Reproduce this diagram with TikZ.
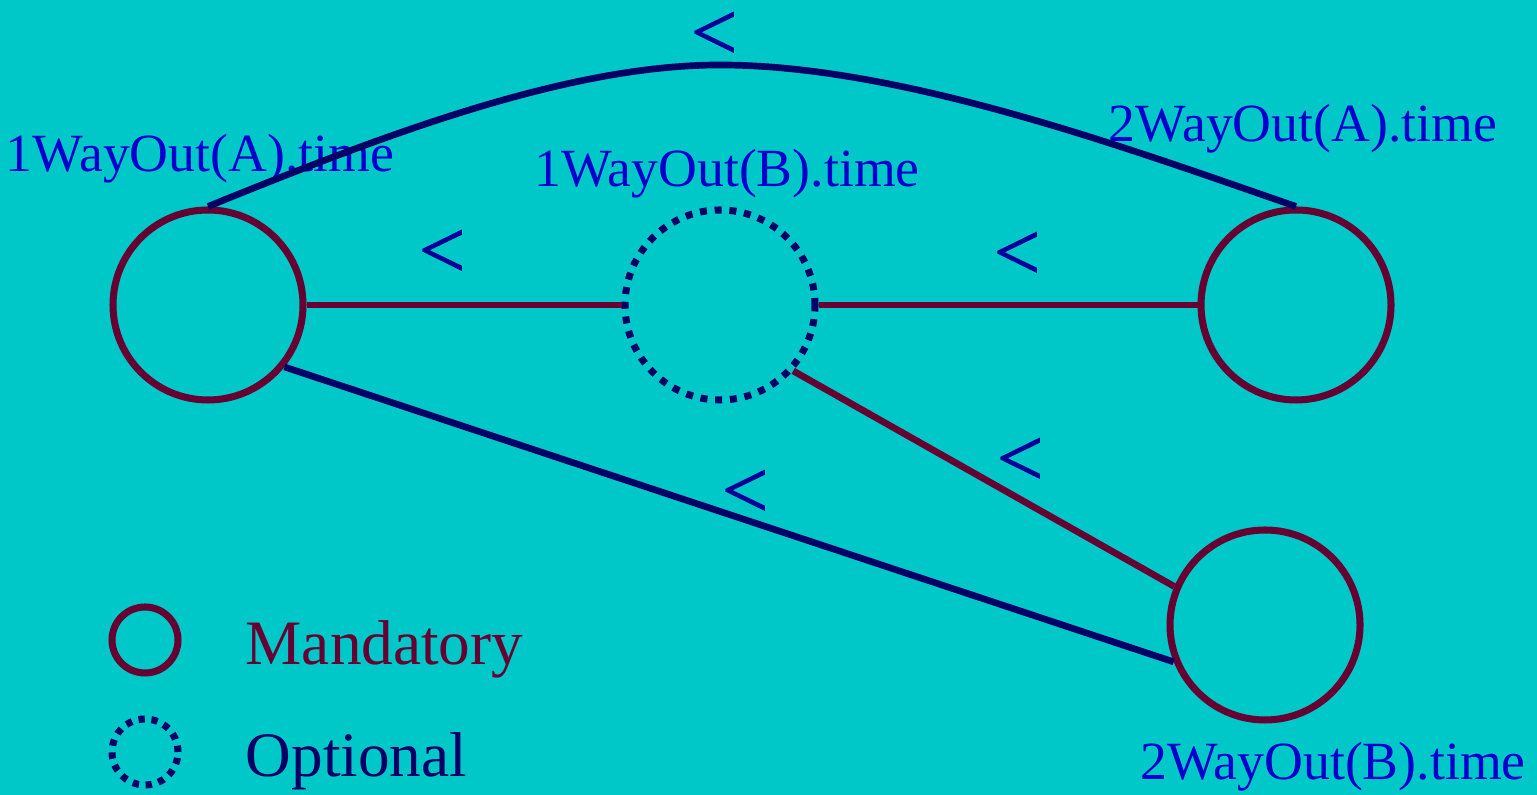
\documentclass[tikz,border=0pt]{standalone}
\usepackage{fontspec}
\setmainfont{Liberation Serif}
\newfontface\ltfont{Liberation Serif}[FakeBold=1.2]
\usepackage{xcolor}
\usepackage{tikz}
\usetikzlibrary{positioning, backgrounds}

\definecolor{bgcyan}{RGB}{0,200,200}
\definecolor{mandcol}{RGB}{102,0,51}
\definecolor{optcol}{RGB}{0,0,102}
\definecolor{labcol}{RGB}{0,0,204}
\definecolor{ltcol}{RGB}{0,0,153}

\begin{document}
\begin{tikzpicture}[
  mand/.style={circle, draw=mandcol, line width=2pt, minimum size=1.9cm, inner sep=0pt},
  opt/.style={circle, draw=optcol, line width=2pt, dash pattern=on 2pt off 2.2pt, minimum size=1.9cm, inner sep=0pt},
  smand/.style={mand, minimum size=0.66cm},
  sopt/.style={opt, minimum size=0.66cm, dash pattern=on 1.8pt off 1.9pt},
  lab/.style={text=labcol, font=\fontsize{15.3}{18}\selectfont, anchor=base, inner sep=0pt},
  lt/.style={text=ltcol, font=\ltfont\fontsize{23.5}{28}\selectfont, inner sep=0pt},
  mline/.style={draw=mandcol, line width=1.9pt},
  oline/.style={draw=optcol, line width=1.9pt}
]

% canvas
\fill[bgcyan] (0,0) rectangle (15.37,7.95);
\useasboundingbox (0,0) rectangle (15.37,7.95);

% Time points
\node[mand] (oneA) at (2.08,4.90) {};
\node[opt] (oneB) at (7.20,4.90) {};
\node[mand] (twoA) at (12.96,4.90) {};
\node[mand] (twoB) at (12.65,1.70) {};

% Labels
\node[lab] (oneAlab) at (2.00,6.23) {1WayOut(A).time};
\node[lab] (oneBlab) at (7.27,6.08) {1WayOut(B).time};
\node[lab] (twoAlab) at (13.03,6.53) {2WayOut(A).time};
\node[lab] (twoBlab) at (13.33,0.15) {2WayOut(B).time};

% Constraints
\draw[mline] (oneA) -- (oneB);
\draw[mline] (oneB) -- (twoA);
\draw[mline] (oneB.-42) -- (twoB.157);
\draw[oline] (oneA.-39) -- (twoB.202);
\draw[oline] (oneA.north) .. controls (3.91,6.63) and (5.70,7.30) .. (7.20,7.30)
  .. controls (9.00,7.30) and (11.27,6.47) .. (twoA.north);

% Order signs
\node[lt] (ltTop) at (7.14,7.59) {<};
\node[lt] (ltAB) at (4.42,5.41) {<};
\node[lt] (ltBA) at (10.17,5.39) {<};
\node[lt] (ltBB) at (10.20,3.33) {<};
\node[lt] (ltAB2) at (7.45,3.01) {<};

% Legend
\node[smand] (legMand) at (1.45,1.55) {};
\node[sopt] (legOpt) at (1.45,0.43) {};
\node[text=mandcol, font=\fontsize{18}{21}\selectfont, anchor=base west, inner sep=0pt] (legMandTxt) at (2.45,1.30) {Mandatory};
\node[text=optcol, font=\fontsize{18}{21}\selectfont, anchor=base west, inner sep=0pt] (legOptTxt) at (2.45,0.18) {Optional};

\end{tikzpicture}
\end{document}
